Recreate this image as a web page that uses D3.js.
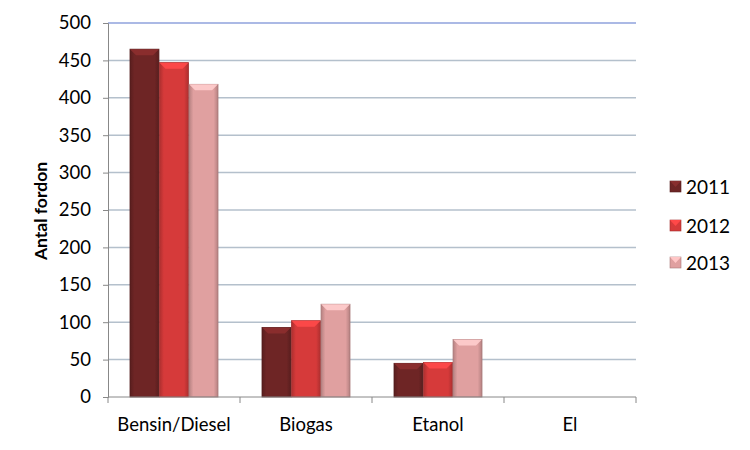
<!DOCTYPE html>
<html><head><meta charset="utf-8">
<script src="https://cdn.jsdelivr.net/npm/d3@7"></script>
<style>body{margin:0;background:#fff}svg{display:block}text{font-family:Lato,"Open Sans",sans-serif;fill:#000}</style>
</head><body><div id="chart"></div>
<script>
const categories = ["Bensin/Diesel", "Biogas", "Etanol", "El"];
const years = ["2011", "2012", "2013"];
const v2011 = [465, 93, 45, 0];
const v2012 = [447, 102, 46, 0];
const v2013 = [418, 124, 77, 0];
const yTicks = [0, 50, 100, 150, 200, 250, 300, 350, 400, 450, 500];
const colors = ["#6e2525", "#d63a3a", "#e0a0a0"];
const series = [v2011, v2012, v2013];

const W = 750, H = 450;
const svg = d3.select("#chart").append("svg").attr("width", W).attr("height", H);
const pL = 108, pR = 636, pT = 23, pB = 397;

const x0 = d3.scaleBand().domain(categories).range([pL, pR]).padding(0);
const x1 = d3.scaleBand().domain(years).range([0, 88]).paddingInner(0.02);
const y = d3.scaleLinear().domain([0, 500]).range([pB, pT]);
const groupOffset = (x0.bandwidth() - 88) / 2;

const defs = svg.append("defs");
colors.forEach((c, i) => {
  const g = defs.append("linearGradient").attr("id", "g" + i).attr("x1", "0").attr("x2", "1");
  const base = d3.color(c);
  g.append("stop").attr("offset", "0").attr("stop-color", base.darker(0.6));
  g.append("stop").attr("offset", "0.15").attr("stop-color", base);
  g.append("stop").attr("offset", "0.85").attr("stop-color", base);
  g.append("stop").attr("offset", "1").attr("stop-color", base.darker(0.6));
});

// gridlines
svg.append("g").selectAll("line").data(yTicks.filter(t => t > 0)).join("line")
  .attr("x1", pL).attr("x2", pR)
  .attr("y1", d => y(d)).attr("y2", d => y(d))
  .attr("stroke", d => d === 500 ? "#8fa2dc" : "#b4c0cc").attr("stroke-width", 1.5);

// y axis
const yAxis = d3.axisLeft(y).tickValues(yTicks).tickSize(5).tickPadding(12);
const ya = svg.append("g").attr("transform", `translate(${pL},0)`).call(yAxis);
ya.select(".domain").attr("stroke", "#888");
ya.selectAll(".tick line").attr("stroke", "#888");
ya.selectAll("text").attr("font-size", 18.5).attr("fill", "#000").style("font-family", "Lato, 'Open Sans', sans-serif");

// bars
const groups = svg.append("g").selectAll("g").data(categories).join("g")
  .attr("transform", d => `translate(${x0(d) + groupOffset},0)`);
groups.each(function(cat, ci) {
  const g = d3.select(this);
  series.forEach((s, si) => {
    const v = s[ci];
    if (v <= 0) return;
    const bx = x1(years[si]), bw = x1.bandwidth();
    const by = y(v), bh = y(0) - y(v);
    const base = d3.color(colors[si]);
    g.append("rect").attr("x", bx).attr("y", by).attr("width", bw).attr("height", bh)
      .attr("fill", `url(#g${si})`).attr("stroke", base.darker(0.8)).attr("stroke-width", 0.8);
    const b = 6;
    g.append("path")
      .attr("d", `M${bx},${by} L${bx + bw},${by} L${bx + bw - b},${by + b} L${bx + b},${by + b} Z`)
      .attr("fill", base.brighter(0.7)).attr("opacity", 0.9);
  });
});

// x axis
svg.append("line").attr("x1", pL).attr("x2", pR).attr("y1", pB).attr("y2", pB).attr("stroke", "#888");
const bounds = categories.map(c => x0(c)).concat([pR]);
svg.append("g").selectAll("line").data(bounds).join("line")
  .attr("x1", d => d).attr("x2", d => d).attr("y1", pB).attr("y2", pB + 6).attr("stroke", "#888");
svg.append("g").selectAll("text").data(categories).join("text")
  .attr("x", d => x0(d) + x0.bandwidth() / 2).attr("y", 431)
  .attr("text-anchor", "middle").attr("font-size", 18.5).text(d => d);

// y label
svg.append("text").attr("transform", "translate(47,211) rotate(-90)")
  .attr("text-anchor", "middle").attr("font-size", 17.5).attr("font-weight", "bold").text("Antal fordon");

// legend
const ly = [187, 226, 263];
const leg = svg.append("g").selectAll("g").data(years).join("g")
  .attr("transform", (d, i) => `translate(670,${ly[i]})`);
leg.append("rect").attr("x", 0).attr("y", -6).attr("width", 11).attr("height", 11)
  .attr("fill", (d, i) => colors[i]).attr("stroke", (d, i) => d3.color(colors[i]).darker(0.8)).attr("stroke-width", 0.6);
leg.append("path").attr("d", "M0,-6 L11,-6 L5.5,0 Z").attr("fill", (d, i) => d3.color(colors[i]).brighter(0.6));
leg.append("text").attr("x", 16).attr("y", 6.5).attr("font-size", 19).text(d => d);
</script></body></html>
